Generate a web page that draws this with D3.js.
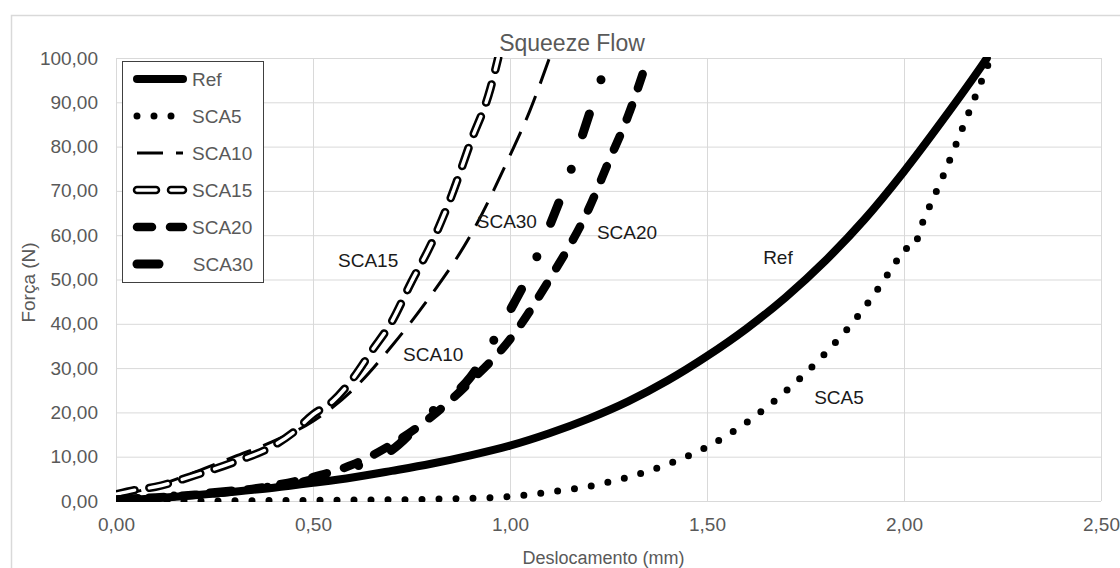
<!DOCTYPE html>
<html>
<head>
<meta charset="utf-8">
<script src="https://cdn.jsdelivr.net/npm/d3@7"></script>
<style>
  body { margin: 0; background: #fff; }
  svg { display: block; font-family: 'Liberation Sans', Arial, sans-serif; }
</style>
</head>
<body>
<svg id="chart"></svg>
<script>
// series data: [deslocamento (mm), força (N)]
const ref = [[0, 0], [0.1, 0.6], [0.2, 1.3], [0.3, 2.1], [0.4, 3.0], [0.5, 4.1], [0.6, 5.3], [0.7, 6.8],
  [0.8, 8.4], [0.9, 10.3], [1.0, 12.5], [1.1, 15.3], [1.2, 18.6], [1.3, 22.5], [1.4, 27.2], [1.5, 32.7],
  [1.6, 38.9], [1.7, 46], [1.8, 54.2], [1.9, 63.6], [2.0, 74.4], [2.1, 86.2], [2.2, 98.6], [2.21, 99.9]];
const sca5 = [[0, 0], [0.2, 0], [0.4, 0.1], [0.6, 0.2], [0.8, 0.4], [0.9, 0.6], [1.0, 1.0], [1.1, 2.0],
  [1.2, 3.3], [1.3, 5.4], [1.4, 8.3], [1.5, 12.2], [1.6, 17.7], [1.7, 24.8], [1.8, 33.3], [1.9, 43.7],
  [1.95, 50], [1.99, 55.5], [2.0, 57], [2.02, 57], [2.05, 63.5], [2.1, 73.5], [2.15, 84.5], [2.2, 95.5], [2.22, 100]];
const sca10 = [[0, 1.0], [0.1, 3.3], [0.2, 6.5], [0.3, 10], [0.4, 13.5], [0.5, 18], [0.6, 25], [0.7, 35],
  [0.8, 46.5], [0.9, 60], [1.0, 78], [1.05, 88], [1.1, 100]];
const sca15 = [[0, 1.5], [0.05, 2.5], [0.1, 3.2], [0.2, 5.8], [0.3, 8.8], [0.4, 12.5], [0.45, 15.5], [0.5, 19.5],
  [0.55, 22.5], [0.6, 27.5], [0.65, 34], [0.7, 40.5], [0.75, 49.5], [0.8, 58], [0.85, 68.5], [0.9, 81],
  [0.95, 93], [0.97, 100]];
const sca20 = [[0, 0.3], [0.1, 0.8], [0.2, 1.4], [0.3, 2.2], [0.4, 3.5], [0.5, 5.4], [0.6, 8.2], [0.7, 12.8],
  [0.8, 19], [0.9, 27], [1.0, 36.5], [1.1, 50], [1.2, 66], [1.25, 76.5], [1.3, 87], [1.35, 100]];
const sca30 = [[0, 0.3], [0.1, 0.8], [0.2, 1.5], [0.3, 2.3], [0.4, 3.3], [0.5, 4.8], [0.6, 7.5], [0.7, 11.5],
  [0.8, 20], [0.9, 28], [1.0, 43], [1.05, 51.5], [1.1, 62], [1.15, 73.5], [1.2, 87], [1.25, 100]];

const seriesNames = ['Ref', 'SCA5', 'SCA10', 'SCA15', 'SCA20', 'SCA30'];
const seriesData = [ref, sca5, sca10, sca15, sca20, sca30];

// data label anchors, in data units
const labelNames = ['SCA15', 'SCA30', 'SCA20', 'SCA10', 'Ref', 'SCA5'];
const labelAt = [[0.64, 54.4], [0.992, 63.2], [1.297, 60.5], [0.805, 33], [1.68, 55], [1.835, 23.3]];

const xTicks = [0, 0.5, 1, 1.5, 2, 2.5];
const yTicks = [0, 10, 20, 30, 40, 50, 60, 70, 80, 90, 100];

const styles = {
  Ref:   { width: 8, dash: null, cap: 'round' },
  SCA5:  { width: 7, dash: '0 17', cap: 'round' },
  SCA10: { width: 3, dash: '26 13', cap: 'butt' },
  SCA15: { width: 8.5, dash: '19 15', cap: 'round', hollow: 3.5 },
  SCA20: { width: 8.5, dash: '15 18', cap: 'round' },
  SCA30: { width: 9, dash: '22 36 0 36', cap: 'round' }
};

const width = 1120, height = 568;
const plotLeft = 116, plotRight = 1101, plotTop = 58, plotBottom = 501;

const locale = d3.formatLocale({ decimal: ',', thousands: '.', grouping: [3], currency: ['', ''] });
const fmt = locale.format('.2f');

const svg = d3.select('#chart').attr('width', width).attr('height', height);

svg.append('rect')
  .attr('x', 11.5).attr('y', 15.5)
  .attr('width', 1200).attr('height', 700)
  .attr('fill', '#fff').attr('stroke', '#d9d9d9').attr('stroke-width', 1.5);

const x = d3.scaleLinear().domain([0, 2.5]).range([plotLeft, plotRight]);
const y = d3.scaleLinear().domain([0, 100]).range([plotBottom, plotTop]);

// gridlines
svg.append('g')
  .attr('transform', 'translate(0,' + plotBottom + ')')
  .call(d3.axisBottom(x).tickValues(xTicks).tickSize(-(plotBottom - plotTop)).tickFormat(''))
  .call(g => g.select('.domain').remove())
  .call(g => g.selectAll('line').attr('stroke', '#d9d9d9').attr('stroke-width', 1));

svg.append('g')
  .attr('transform', 'translate(' + plotLeft + ',0)')
  .call(d3.axisLeft(y).tickValues(yTicks).tickSize(-(plotRight - plotLeft)).tickFormat(''))
  .call(g => g.select('.domain').remove())
  .call(g => g.selectAll('line').attr('stroke', '#d9d9d9').attr('stroke-width', 1));

// tick labels
svg.append('g')
  .attr('transform', 'translate(' + plotLeft + ',0)')
  .call(d3.axisLeft(y).tickValues(yTicks).tickSize(0).tickPadding(18).tickFormat(fmt))
  .call(g => g.select('.domain').remove())
  .call(g => g.selectAll('text').attr('fill', '#595959').style('font-size', '19px')
    .style('font-family', "'Liberation Sans', Arial, sans-serif"));

svg.append('g')
  .attr('transform', 'translate(0,' + plotBottom + ')')
  .call(d3.axisBottom(x).tickValues(xTicks).tickSize(0).tickPadding(17).tickFormat(fmt))
  .call(g => g.select('.domain').remove())
  .call(g => g.selectAll('text').attr('fill', '#595959').style('font-size', '19px')
    .style('font-family', "'Liberation Sans', Arial, sans-serif"));

// titles
svg.append('text')
  .attr('x', 572).attr('y', 43)
  .attr('text-anchor', 'middle').attr('dominant-baseline', 'central')
  .attr('fill', '#595959').style('font-size', '23px')
  .text('Squeeze Flow');

svg.append('text')
  .attr('x', (plotLeft + plotRight) / 2 - 5).attr('y', 558)
  .attr('text-anchor', 'middle').attr('dominant-baseline', 'central')
  .attr('fill', '#595959').style('font-size', '18px')
  .text('Deslocamento (mm)');

svg.append('text')
  .attr('transform', 'translate(28,' + ((plotTop + plotBottom) / 2 + 3) + ') rotate(-90)')
  .attr('text-anchor', 'middle').attr('dominant-baseline', 'central')
  .attr('fill', '#595959').style('font-size', '19px')
  .text('Força (N)');

// series
svg.append('clipPath').attr('id', 'plot')
  .append('rect')
  .attr('x', plotLeft).attr('y', plotTop - 1)
  .attr('width', plotRight - plotLeft).attr('height', plotBottom - plotTop + 2);

const line = d3.line()
  .x(d => x(d[0]))
  .y(d => y(d[1]))
  .curve(d3.curveMonotoneX);

const plot = svg.append('g').attr('clip-path', 'url(#plot)');

const drawStroke = (sel, st) => {
  sel.attr('fill', 'none')
    .attr('stroke', '#000')
    .attr('stroke-width', st.width)
    .attr('stroke-linecap', st.cap)
    .attr('stroke-linejoin', 'round')
    .attr('stroke-dasharray', st.dash);
  return sel;
};

// hollow dashes: white core drawn over the black dash
const drawCore = (sel, st) => {
  sel.attr('fill', 'none')
    .attr('stroke', '#fff')
    .attr('stroke-width', st.hollow)
    .attr('stroke-linecap', 'round')
    .attr('stroke-dasharray', st.dash);
  return sel;
};

seriesNames.forEach((name, i) => {
  const st = styles[name];
  drawStroke(plot.append('path').attr('d', line(seriesData[i])), st);
  if (st.hollow) drawCore(plot.append('path').attr('d', line(seriesData[i])), st);
});

// data labels
svg.append('g')
  .selectAll('text')
  .data(labelNames)
  .enter()
  .append('text')
  .attr('x', (d, i) => x(labelAt[i][0]))
  .attr('y', (d, i) => y(labelAt[i][1]))
  .attr('text-anchor', 'middle')
  .attr('dominant-baseline', 'central')
  .attr('fill', '#1a1a1a')
  .style('font-size', '19px')
  .text(d => d);

// legend
const legend = svg.append('g');
legend.append('rect')
  .attr('x', 122.5).attr('y', 61.5)
  .attr('width', 141).attr('height', 221)
  .attr('fill', '#fff').attr('stroke', '#404040').attr('stroke-width', 1);

seriesNames.forEach((name, i) => {
  const st = styles[name];
  const ly = 79 + i * 37;
  const sample = 'M137,' + ly + 'H183';
  drawStroke(legend.append('path').attr('d', sample), st);
  if (st.hollow) drawCore(legend.append('path').attr('d', sample), st);
  legend.append('text')
    .attr('x', name === 'SCA30' ? 253 : 192)
    .attr('y', ly)
    .attr('text-anchor', name === 'SCA30' ? 'end' : 'start')
    .attr('dominant-baseline', 'central')
    .attr('fill', '#595959')
    .style('font-size', '19px')
    .text(name);
});
</script>
</body>
</html>
